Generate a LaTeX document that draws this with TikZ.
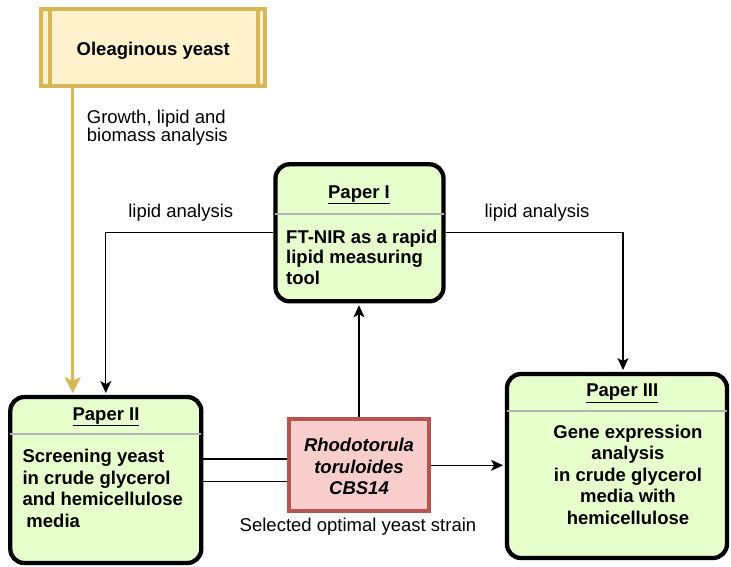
\documentclass[tikz,border=0pt]{standalone}
\usepackage{fontspec}
\setmainfont{Liberation Sans}
\usetikzlibrary{arrows.meta,calc}
\definecolor{goldfill}{HTML}{FFF2CC}
\definecolor{goldline}{HTML}{D6B656}
\definecolor{greenfill}{HTML}{E6FFCC}
\definecolor{redfill}{HTML}{F8CECC}
\definecolor{redline}{HTML}{B85450}
\definecolor{sepgray}{HTML}{B3B3B3}
\tikzset{
  paperbox/.style={draw=black, fill=greenfill, line width=4.3pt, rounded corners=14pt, inner sep=0pt},
  strainbox/.style={draw=redline, fill=redfill, line width=4.3pt, inner sep=0pt},
  yeastbox/.style={draw=goldline, fill=goldfill, line width=4.3pt, inner sep=0pt},
  hdr/.style={font=\fontsize{18.5}{21.5}\selectfont\bfseries, inner sep=0pt},
  body/.style={font=\fontsize{18.5}{21.5}\selectfont\bfseries, inner sep=0pt},
  lbl/.style={font=\fontsize{18.5}{18.5}\selectfont, inner sep=0pt, align=left},
  sepline/.style={draw=sepgray, line width=2pt},
  arr/.style={-{Stealth[length=12pt,width=11pt,inset=3pt]}, line width=1.2pt},
  plain/.style={line width=1.2pt},
  goldarr/.style={draw=goldline, line width=3.3pt, -{Stealth[length=16pt,width=16pt,inset=4pt]}}
}
\begin{document}
\begin{tikzpicture}[x=1pt,y=-1pt]
\useasboundingbox (0,0) rectangle (731,566);
% boxes
\node[yeastbox, minimum width=224pt, minimum height=77pt] (oy) at (153.3,47.5) {};
\draw[draw=goldline, line width=4.3pt] ($(oy.north west)+(11,0)$) -- ($(oy.south west)+(11,0)$);
\draw[draw=goldline, line width=4.3pt] ($(oy.north east)+(-9.5,0)$) -- ($(oy.south east)+(-9.5,0)$);
\node[hdr, anchor=base] (oyt) at (153.3,55) {Oleaginous yeast};

\node[paperbox, minimum width=168pt, minimum height=137pt] (p1) at (359.5,232.8) {};
\node[paperbox, minimum width=191pt, minimum height=166pt] (p2) at (105.8,480) {};
\node[paperbox, minimum width=220pt, minimum height=184pt] (p3) at (617,466) {};
\node[strainbox, minimum width=139.4pt, minimum height=92pt] (rh) at (359,465.3) {};

% separators
\coordinate (s1) at (0,214.3);
\coordinate (s2) at (0,434.3);
\coordinate (s3) at (0,411);
\draw[sepline] ($(p1.west |- s1)+(2.1,0)$) -- ($(p1.east |- s1)+(-2.1,0)$);
\draw[sepline] ($(p2.west |- s2)+(2.1,0)$) -- ($(p2.east |- s2)+(-2.1,0)$);
\draw[sepline] ($(p3.west |- s3)+(2.1,0)$) -- ($(p3.east |- s3)+(-2.1,0)$);

% headers
\node[hdr, anchor=base] (p1h) at (359,198.3) {\underline{Paper I}};
\node[hdr, anchor=base] (p2h) at (106,420) {\underline{Paper II}};
\node[hdr, anchor=base] (p3h) at (622.3,396.7) {\underline{Paper III}};

% bodies
\node[body, align=left, anchor=north west, font=\fontsize{18.5}{20.3}\selectfont\bfseries] (p1b) at (286,229.8) {FT-NIR as a rapid\\lipid measuring\\tool};
\node[body, align=left, anchor=north west] (p2b) at (22.3,449.2) {Screening yeast\\in crude glycerol\\and hemicellulose\\\hspace{4pt}media};
\node[body, align=center, anchor=north] (p3b) at (628,424.8) {Gene expression\\analysis\\in crude glycerol\\media with\\hemicellulose};
\node[body, align=center, anchor=north, font=\fontsize{18.5}{21.2}\selectfont\bfseries\itshape] (rhb) at (359,438.2) {Rhodotorula\\toruloides\\CBS14};

% labels
\node[lbl, anchor=north west] (gl) at (86.7,109.8) {Growth, lipid and\\biomass analysis};
\node[lbl, anchor=base] (ll) at (180.8,217.7) {lipid analysis};
\node[lbl, anchor=base] (lr) at (537,217.7) {lipid analysis};
\node[lbl, anchor=base] (sl) at (358,531.7) {Selected optimal yeast strain};

% connectors
\coordinate (gx) at (72.7,0);
\draw[goldarr] (oy.south -| gx) -- ($(p2.north -| gx)+(0,-1.8)$);
\draw[arr] (p1.west) -| ($(p2.north)+(0,-1.8)$);
\coordinate (rx) at (623,0);
\draw[arr] (p1.east) -| ($(p3.north -| rx)+(0,-1.8)$);
\draw[arr] (rh.north) -- ($(rh.north |- p1.south)+(0,1.8)$);
\draw[arr] (rh.east) -- ($(rh.east -| p3.west)+(-1.8,0)$);
\coordinate (l1) at (0,459);
\coordinate (l2) at (0,481.3);
\draw[plain] (l1 -| p2.east) -- (l1 -| rh.west);
\draw[plain] (l2 -| p2.east) -- (l2 -| rh.west);
\end{tikzpicture}
\end{document}
